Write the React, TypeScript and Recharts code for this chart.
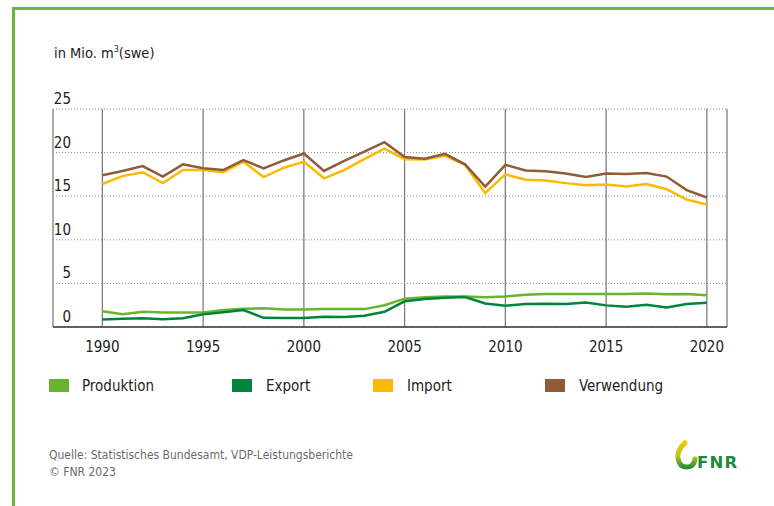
import React from "react";
import { LineChart, Line, XAxis, YAxis, CartesianGrid } from "recharts";

const YEARS = [
	1990, 1991, 1992, 1993, 1994, 1995, 1996, 1997, 1998, 1999, 2000, 2001, 2002,
	2003, 2004, 2005, 2006, 2007, 2008, 2009, 2010, 2011, 2012, 2013, 2014, 2015,
	2016, 2017, 2018, 2019, 2020,
];
const PRODUKTION = [
	1.8, 1.45, 1.75, 1.65, 1.65, 1.65, 1.95, 2.1, 2.15, 2.0, 2.0, 2.05, 2.05, 2.05,
	2.5, 3.25, 3.4, 3.5, 3.5, 3.4, 3.5, 3.7, 3.78, 3.78, 3.78, 3.78, 3.78, 3.85,
	3.75, 3.78, 3.65,
];
const EXPORT = [
	0.85, 0.95, 1.0, 0.9, 1.0, 1.45, 1.7, 1.95, 1.05, 1.03, 1.03, 1.18, 1.15, 1.3,
	1.75, 2.95, 3.2, 3.35, 3.43, 2.7, 2.45, 2.63, 2.67, 2.63, 2.82, 2.48, 2.33,
	2.56, 2.25, 2.63, 2.78,
];
const IMPORT = [
	16.4, 17.3, 17.75, 16.5, 18.0, 18.0, 17.75, 18.95, 17.2, 18.25, 18.95, 17.05,
	18.0, 19.25, 20.45, 19.25, 19.2, 19.65, 18.6, 15.35, 17.5, 16.9, 16.8, 16.5,
	16.25, 16.35, 16.1, 16.4, 15.8, 14.6, 14.05,
];
const VERWENDUNG = [
	17.4, 17.9, 18.45, 17.25, 18.65, 18.2, 18.0, 19.15, 18.2, 19.1, 19.9, 17.9,
	19.05, 20.1, 21.2, 19.5, 19.3, 19.85, 18.65, 16.1, 18.6, 17.95, 17.85, 17.6,
	17.2, 17.6, 17.55, 17.65, 17.25, 15.7, 14.85,
];
const X_TICKS = [1990, 1995, 2000, 2005, 2010, 2015, 2020];
const Y_TICKS = [0, 5, 10, 15, 20, 25];

const SERIES = [
	{ key: "produktion", name: "Produktion", color: "#6ab42d", values: PRODUKTION },
	{ key: "export", name: "Export", color: "#00843d", values: EXPORT },
	{ key: "import", name: "Import", color: "#fbba00", values: IMPORT },
	{ key: "verwendung", name: "Verwendung", color: "#8f5c36", values: VERWENDUNG },
];

const data = YEARS.map((year, i) => {
	const row: Record<string, number> = { year };
	SERIES.forEach(s => {
		row[s.key] = s.values[i];
	});
	return row;
});

const FONT = "'DejaVu Sans Condensed', sans-serif";
const TEXT = "#222222";

// legend x positions (square / label)
const LEGEND_POS = [
	[49, 82],
	[232, 266],
	[373, 407],
	[545, 579],
];

function YTick(props: any) {
	const { y, payload } = props;
	return (
		<text x={71} y={y - 5} textAnchor='end' fill={TEXT} fontSize={15} fontFamily={FONT}>
			{payload.value}
		</text>
	);
}

function XTick(props: any) {
	const { x, y, payload } = props;
	return (
		<text x={x} y={y + 17} textAnchor='middle' fill={TEXT} fontSize={15} fontFamily={FONT}>
			{payload.value}
		</text>
	);
}

export default function App() {
	return (
		<div
			style={{
				position: "fixed",
				left: 0,
				top: 0,
				width: 774,
				height: 506,
				background: "#fff",
				fontFamily: FONT,
				overflow: "hidden",
			}}>
			{/* green frame, top and left only */}
			<div
				style={{
					position: "absolute",
					left: 12,
					top: 7,
					width: 770,
					height: 510,
					borderTop: "3px solid #6cb33f",
					borderLeft: "3px solid #6cb33f",
				}}
			/>
			<div
				style={{
					position: "absolute",
					left: 54,
					top: 45,
					fontSize: 14.5,
					lineHeight: "17px",
					color: TEXT,
				}}>
				in Mio. m<sup style={{ fontSize: 9, verticalAlign: "6px", lineHeight: 0 }}>3</sup>(swe)
			</div>

			<div style={{ position: "absolute", left: 0, top: 0 }}>
				<LineChart
					width={774}
					height={360}
					data={data}
					margin={{ top: 109, right: 47, bottom: 8, left: 0 }}>
					<CartesianGrid
						horizontal={false}
						vertical={true}
						stroke='#7d7d7d'
						strokeWidth={1.3}
					/>
					<CartesianGrid
						horizontal={true}
						vertical={false}
						stroke='#8a8a8a'
						strokeDasharray='1 2'
					/>
					<XAxis
						dataKey='year'
						type='number'
						domain={[1987.55, 2021]}
						ticks={X_TICKS}
						height={25}
						axisLine={{ stroke: "#333", strokeWidth: 1.5 }}
						tickLine={false}
						tick={<XTick />}
					/>
					<YAxis
						type='number'
						domain={[0, 25]}
						ticks={Y_TICKS}
						width={53}
						axisLine={false}
						tickLine={false}
						tick={<YTick />}
					/>
					{SERIES.map(s => (
						<Line
							key={s.key}
							dataKey={s.key}
							name={s.name}
							stroke={s.color}
							strokeWidth={2.5}
							dot={false}
							isAnimationActive={false}
						/>
					))}
				</LineChart>
			</div>

			{/* legend */}
			{SERIES.map((s, i) => (
				<React.Fragment key={s.key}>
					<div
						style={{
							position: "absolute",
							left: LEGEND_POS[i][0],
							top: 379,
							width: 20,
							height: 13,
							background: s.color,
						}}
					/>
					<div
						style={{
							position: "absolute",
							left: LEGEND_POS[i][1],
							top: 377,
							fontSize: 15,
							color: TEXT,
							lineHeight: "18px",
						}}>
						{s.name}
					</div>
				</React.Fragment>
			))}

			<div
				style={{
					position: "absolute",
					left: 49,
					top: 447,
					fontSize: 12,
					lineHeight: "17px",
					color: "#6b6b6b",
				}}>
				Quelle: Statistisches Bundesamt, VDP-Leistungsberichte
				<br />© FNR 2023
			</div>

			{/* FNR logo */}
			<svg
				style={{ position: "absolute", left: 670, top: 438 }}
				width={80}
				height={36}>
				<defs>
					<linearGradient id='fnrgrad' x1='0' y1='0' x2='0' y2='1'>
						<stop offset='0%' stopColor='#f6c400' />
						<stop offset='55%' stopColor='#b8c81a' />
						<stop offset='100%' stopColor='#2b8f3a' />
					</linearGradient>
				</defs>
				<path
					d='M15 5 Q7 12 8 20 Q9 29 17 29 Q24 29 25 21'
					fill='none'
					stroke='url(#fnrgrad)'
					strokeWidth={5}
					strokeLinecap='round'
				/>
				<text
					x={27}
					y={30}
					fontSize={16.5}
					fontWeight='bold'
					letterSpacing={1.2}
					fill='#1e8a3c'
					fontFamily="'DejaVu Sans', sans-serif">
					FNR
				</text>
			</svg>
		</div>
	);
}
